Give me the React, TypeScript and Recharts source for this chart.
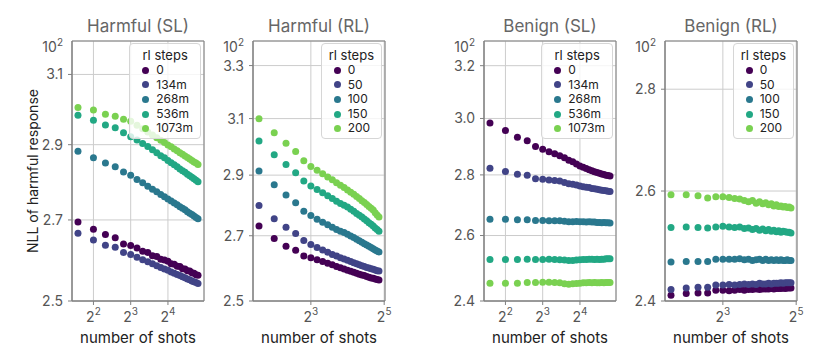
import React from 'react';
import { ScatterChart, Scatter, XAxis, YAxis, CartesianGrid, Legend, ReferenceArea, Label } from 'recharts';

// ---------- data ----------
const shotsSL = [3, 4, 5, 6, 7, 8, 9, 10, 11, 12, 13, 14, 15, 16, 17, 18, 19, 20, 21, 22, 23, 24, 25, 26, 27, 28];
const shotsRL = [3, 4, 5, 6, 7, 8, 9, 10, 11, 12, 13, 14, 15, 16, 17, 18, 19, 20, 21, 22, 23, 24, 25, 26, 27, 28, 29];

const stepsSL = ['0', '134m', '268m', '536m', '1073m'];
const stepsRL = ['0', '50', '100', '150', '200'];

const harmfulSL0 = [2.695, 2.676, 2.663, 2.655, 2.639, 2.635, 2.629, 2.621, 2.618, 2.610, 2.608, 2.601, 2.599, 2.596, 2.590, 2.589, 2.584, 2.583, 2.578, 2.577, 2.573, 2.572, 2.568, 2.567, 2.563, 2.562];
const harmfulSL1 = [2.666, 2.649, 2.636, 2.631, 2.618, 2.613, 2.606, 2.600, 2.595, 2.590, 2.585, 2.581, 2.577, 2.574, 2.570, 2.567, 2.564, 2.561, 2.558, 2.556, 2.553, 2.551, 2.548, 2.546, 2.544, 2.542];
const harmfulSL2 = [2.882, 2.864, 2.850, 2.840, 2.826, 2.817, 2.806, 2.797, 2.788, 2.780, 2.773, 2.766, 2.760, 2.754, 2.749, 2.744, 2.739, 2.734, 2.730, 2.726, 2.721, 2.717, 2.714, 2.710, 2.706, 2.703];
const harmfulSL3 = [2.982, 2.968, 2.955, 2.947, 2.933, 2.922, 2.913, 2.903, 2.895, 2.886, 2.878, 2.870, 2.864, 2.857, 2.851, 2.845, 2.840, 2.834, 2.829, 2.825, 2.820, 2.816, 2.812, 2.808, 2.804, 2.800];
const harmfulSL4 = [3.004, 2.997, 2.985, 2.979, 2.971, 2.965, 2.954, 2.944, 2.935, 2.927, 2.919, 2.912, 2.906, 2.899, 2.894, 2.888, 2.883, 2.878, 2.874, 2.869, 2.865, 2.861, 2.857, 2.853, 2.850, 2.846];

const harmfulRL0 = [2.731, 2.691, 2.667, 2.654, 2.636, 2.631, 2.625, 2.619, 2.614, 2.609, 2.604, 2.600, 2.596, 2.592, 2.589, 2.586, 2.583, 2.580, 2.578, 2.576, 2.573, 2.571, 2.569, 2.568, 2.566, 2.564, 2.563];
const harmfulRL1 = [2.798, 2.755, 2.727, 2.707, 2.685, 2.672, 2.663, 2.655, 2.648, 2.641, 2.636, 2.631, 2.627, 2.623, 2.619, 2.615, 2.612, 2.609, 2.606, 2.604, 2.601, 2.599, 2.597, 2.595, 2.593, 2.591, 2.590];
const harmfulRL2 = [2.914, 2.867, 2.833, 2.807, 2.779, 2.765, 2.753, 2.743, 2.735, 2.727, 2.720, 2.714, 2.710, 2.705, 2.699, 2.694, 2.689, 2.684, 2.679, 2.675, 2.671, 2.667, 2.663, 2.659, 2.655, 2.652, 2.649];
const harmfulRL3 = [3.019, 2.971, 2.937, 2.908, 2.880, 2.863, 2.851, 2.840, 2.830, 2.821, 2.812, 2.805, 2.799, 2.793, 2.786, 2.779, 2.772, 2.766, 2.760, 2.754, 2.748, 2.742, 2.737, 2.731, 2.725, 2.720, 2.714];
const harmfulRL4 = [3.099, 3.049, 3.011, 2.982, 2.950, 2.930, 2.917, 2.905, 2.894, 2.884, 2.874, 2.866, 2.858, 2.850, 2.842, 2.835, 2.828, 2.821, 2.814, 2.808, 2.801, 2.795, 2.789, 2.783, 2.774, 2.767, 2.760];

const benignSL0 = [2.983, 2.956, 2.932, 2.919, 2.899, 2.889, 2.880, 2.873, 2.866, 2.859, 2.851, 2.845, 2.838, 2.831, 2.826, 2.822, 2.818, 2.814, 2.811, 2.808, 2.806, 2.803, 2.801, 2.799, 2.798, 2.796];
const benignSL1 = [2.823, 2.812, 2.802, 2.799, 2.787, 2.785, 2.783, 2.781, 2.779, 2.774, 2.770, 2.768, 2.766, 2.762, 2.760, 2.758, 2.757, 2.754, 2.753, 2.751, 2.750, 2.748, 2.747, 2.746, 2.745, 2.744];
const benignSL2 = [2.652, 2.652, 2.651, 2.651, 2.648, 2.648, 2.647, 2.647, 2.647, 2.646, 2.644, 2.644, 2.645, 2.644, 2.644, 2.643, 2.644, 2.643, 2.643, 2.642, 2.642, 2.641, 2.642, 2.641, 2.641, 2.640];
const benignSL3 = [2.525, 2.525, 2.525, 2.526, 2.525, 2.525, 2.526, 2.525, 2.524, 2.523, 2.522, 2.522, 2.523, 2.524, 2.525, 2.525, 2.526, 2.526, 2.525, 2.526, 2.525, 2.526, 2.526, 2.527, 2.527, 2.527];
const benignSL4 = [2.453, 2.453, 2.453, 2.455, 2.455, 2.456, 2.456, 2.455, 2.454, 2.451, 2.450, 2.451, 2.452, 2.453, 2.454, 2.454, 2.455, 2.454, 2.455, 2.454, 2.454, 2.455, 2.454, 2.455, 2.455, 2.455];

const benignRL0 = [2.410, 2.413, 2.414, 2.414, 2.419, 2.419, 2.418, 2.419, 2.420, 2.419, 2.420, 2.420, 2.421, 2.420, 2.421, 2.421, 2.421, 2.422, 2.421, 2.422, 2.422, 2.422, 2.423, 2.422, 2.423, 2.423, 2.423];
const benignRL1 = [2.420, 2.423, 2.424, 2.424, 2.428, 2.428, 2.429, 2.428, 2.429, 2.430, 2.429, 2.430, 2.429, 2.431, 2.430, 2.430, 2.431, 2.430, 2.431, 2.431, 2.431, 2.432, 2.431, 2.432, 2.432, 2.432, 2.432];
const benignRL2 = [2.469, 2.470, 2.470, 2.470, 2.474, 2.474, 2.474, 2.474, 2.475, 2.473, 2.474, 2.472, 2.473, 2.474, 2.472, 2.474, 2.472, 2.473, 2.472, 2.473, 2.472, 2.473, 2.472, 2.472, 2.473, 2.472, 2.472];
const benignRL3 = [2.532, 2.533, 2.532, 2.531, 2.533, 2.534, 2.533, 2.532, 2.533, 2.530, 2.531, 2.528, 2.530, 2.527, 2.529, 2.526, 2.528, 2.525, 2.527, 2.524, 2.526, 2.523, 2.525, 2.524, 2.523, 2.523, 2.522];
const benignRL4 = [2.593, 2.593, 2.591, 2.587, 2.589, 2.589, 2.588, 2.586, 2.585, 2.582, 2.580, 2.582, 2.577, 2.580, 2.576, 2.578, 2.574, 2.576, 2.572, 2.574, 2.571, 2.572, 2.570, 2.571, 2.569, 2.570, 2.568];

const xTicksSL = [4, 8, 16];
const xTicksRL = [8, 32];
const xDomainSL: [number, number] = [2.684, 31.3];
const xDomainRL: [number, number] = [2.678, 32.5];

const yTicksHarmfulSL = [2.5, 2.7, 2.9, 3.1];
const yTicksHarmfulRL = [2.5, 2.7, 2.9, 3.1, 3.3];
const yTicksBenignSL = [2.4, 2.6, 2.8, 3.0, 3.2];
const yTicksBenignRL = [2.4, 2.6, 2.8];

const VIRIDIS = ['#440154', '#414487', '#2a788e', '#22a884', '#7ad151'];

// ---------- layout ----------
const PLOT_W = 132;
const PLOT_TOP = 41;
const CHART_H = 361;
const FONT = "Inter, 'DejaVu Sans', sans-serif";

type PanelDef = {
  title: string;
  plotLeft: number;
  shots: number[];
  series: number[][];
  steps: string[];
  xDomain: [number, number];
  xTicks: number[];
  yDomain: [number, number];
  yTicks: number[];
};

const panels: PanelDef[] = [
  { title: 'Harmful (SL)', plotLeft: 72, shots: shotsSL, series: [harmfulSL0, harmfulSL1, harmfulSL2, harmfulSL3, harmfulSL4], steps: stepsSL, xDomain: xDomainSL, xTicks: xTicksSL, yDomain: [2.5, 3.2], yTicks: yTicksHarmfulSL },
  { title: 'Harmful (RL)', plotLeft: 253, shots: shotsRL, series: [harmfulRL0, harmfulRL1, harmfulRL2, harmfulRL3, harmfulRL4], steps: stepsRL, xDomain: xDomainRL, xTicks: xTicksRL, yDomain: [2.5, 3.397], yTicks: yTicksHarmfulRL },
  { title: 'Benign (SL)', plotLeft: 484, shots: shotsSL, series: [benignSL0, benignSL1, benignSL2, benignSL3, benignSL4], steps: stepsSL, xDomain: xDomainSL, xTicks: xTicksSL, yDomain: [2.4, 3.298], yTicks: yTicksBenignSL },
  { title: 'Benign (RL)', plotLeft: 665, shots: shotsRL, series: [benignRL0, benignRL1, benignRL2, benignRL3, benignRL4], steps: stepsRL, xDomain: xDomainRL, xTicks: xTicksRL, yDomain: [2.4, 2.9], yTicks: yTicksBenignRL },
];

const PowTick = (props: any) => {
  const { x, y, payload } = props;
  const exp = Math.round(Math.log2(payload.value));
  return (
    <text x={x} y={y + 15} textAnchor="middle" fill="#555" fontSize={14}>
      2<tspan dy={-7} fontSize={10}>{exp}</tspan>
    </text>
  );
};

const Dot = (color: string) => (props: any) => (
  <circle cx={props.cx} cy={props.cy} r={3.5} fill={color} />
);

const makeLegend = (steps: string[]) => () => (
  <div
    style={{
      background: 'rgba(255,255,255,0.8)',
      border: '1px solid #d6d6d6',
      borderRadius: 4,
      padding: '3px 7px 2px 7px',
      fontSize: 12,
      color: '#222',
      fontFamily: FONT,
    }}
  >
    <div style={{ textAlign: 'center', lineHeight: '16px', height: 16, fontSize: 13 }}>rl steps</div>
    {steps.map((s, i) => (
      <div key={s} style={{ display: 'flex', alignItems: 'center', lineHeight: '14.6px', height: 14.6 }}>
        <span style={{ display: 'inline-block', width: 7, height: 7, borderRadius: 4, background: VIRIDIS[i], marginLeft: 5, marginRight: 7 }} />
        <span>{s}</span>
      </div>
    ))}
  </div>
);

const Panel = ({ p, first }: { p: PanelDef; first: boolean }) => {
  const ml = first ? p.plotLeft - 40 : 10;
  const chartLeft = first ? 0 : p.plotLeft - 50;
  const W = ml + 40 + PLOT_W + 10;
  return (
    <div style={{ position: 'absolute', left: chartLeft, top: 0 }}>
      <ScatterChart width={W} height={CHART_H} margin={{ top: PLOT_TOP, right: 10, bottom: 15, left: ml }}>
        <CartesianGrid stroke="#cccccc" strokeWidth={1} />
        <XAxis
          type="number"
          dataKey="x"
          scale="log"
          domain={p.xDomain}
          ticks={p.xTicks}
          allowDataOverflow
          interval={0}
          height={45}
          tickSize={4}
          stroke="#808080"
          tick={(tp: any) => <PowTick {...tp} />}
        >
          <Label
            content={(lp: any) => {
              const vb = lp.viewBox;
              return (
                <text x={vb.x + vb.width / 2} y={vb.y + 36} textAnchor="middle" dominantBaseline="central" fontSize={15} fill="#222">
                  number of shots
                </text>
              );
            }}
          />
        </XAxis>
        <YAxis
          type="number"
          dataKey="y"
          scale="log"
          domain={p.yDomain}
          ticks={p.yTicks}
          allowDataOverflow
          interval={0}
          width={40}
          tickSize={4}
          tickMargin={5}
          stroke="#808080"
          tick={{ fontSize: 14, fill: '#555' }}
          tickFormatter={(v: number) => v.toFixed(1)}
        >
          <Label
            content={(lp: any) => {
              const vb = lp.viewBox;
              return (
                <text x={vb.x + vb.width - 9} y={vb.y + 11} textAnchor="end" fontSize={14} fill="#555">
                  10<tspan dy={-6} fontSize={10}>2</tspan>
                </text>
              );
            }}
          />
          {first && (
            <Label
              content={(lp: any) => {
                const vb = lp.viewBox;
                const cx = vb.x;
                const cy = vb.y + vb.height / 2;
                return (
                  <text x={cx} y={cy} transform={`rotate(-90, ${cx}, ${cy})`} textAnchor="middle" dominantBaseline="central" fontSize={14} fill="#222">
                    NLL of harmful response
                  </text>
                );
              }}
            />
          )}
        </YAxis>
        <ReferenceArea x1={p.xDomain[0]} x2={p.xDomain[1]} y1={p.yDomain[0]} y2={p.yDomain[1]} fill="none" stroke="#808080" strokeWidth={1} ifOverflow="visible" />
        {p.series.map((vals, i) => (
          <Scatter
            key={i}
            name={p.steps[i]}
            data={p.shots.map((s, j) => ({ x: s, y: vals[j] }))}
            fill={VIRIDIS[i]}
            shape={Dot(VIRIDIS[i])}
            isAnimationActive={false}
          />
        ))}
        <Legend
          layout="horizontal"
          verticalAlign="middle"
          align="center"
          content={makeLegend(p.steps)}
          wrapperStyle={{ top: PLOT_TOP + 2, right: 13, left: 'auto', width: 'auto' }}
        />
      </ScatterChart>
    </div>
  );
};

export default function App() {
  return (
    <div style={{ position: 'absolute', left: 0, top: 0, width: 826, height: 361, background: '#fff', fontFamily: FONT, overflow: 'hidden' }}>
      {panels.map((p, i) => (
        <Panel key={p.title} p={p} first={i === 0} />
      ))}
      {panels.map((p) => (
        <div
          key={p.title + '-t'}
          style={{ position: 'absolute', left: p.plotLeft, top: 15, width: PLOT_W, textAlign: 'center', fontSize: 17, lineHeight: '22px', color: '#666' }}
        >
          {p.title}
        </div>
      ))}
    </div>
  );
}
